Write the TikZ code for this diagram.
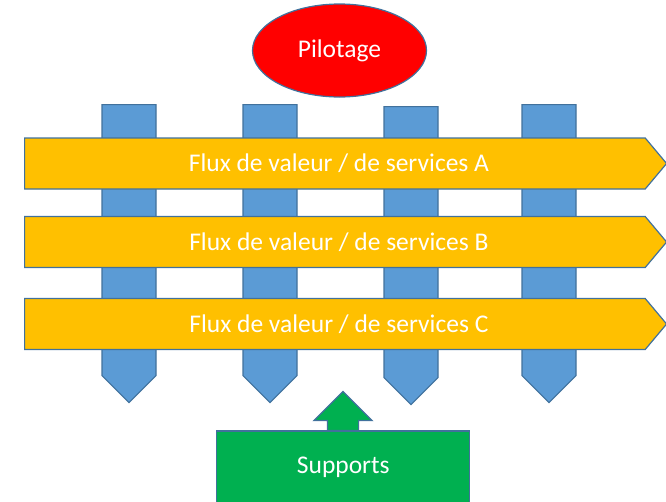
\documentclass[tikz,border=0pt]{standalone}
\usepackage{fontspec}
\setmainfont{Carlito}
\usepackage{tikz}
\usetikzlibrary{shapes.geometric,shapes.arrows,positioning}
\definecolor{pilotcolor}{RGB}{255, 0, 0}
\definecolor{linecolor}{RGB}{65, 113, 156}
\definecolor{barcolor}{RGB}{91, 155, 213}
\definecolor{fluxcolor}{RGB}{255, 192, 0}
\definecolor{supportcolor}{RGB}{0, 176, 80}

\begin{document}
\begin{tikzpicture}[x=1pt, y=-1pt,
    every node/.append style={text=white, font=\fontsize{25.5}{30}\selectfont},
    pilot/.style={draw=linecolor, line width=1.2pt, ellipse, fill=pilotcolor, minimum width=174pt, minimum height=93pt, inner sep=0pt},
    bar/.style={draw=linecolor, line width=1.2pt, single arrow, fill=barcolor, single arrow head extend=0pt, single arrow tip angle=90, minimum width=54pt, minimum height=298pt, inner sep=0pt, rotate=-90, anchor=tail},
    flux/.style={draw=linecolor, line width=1.2pt, single arrow, fill=fluxcolor, single arrow head extend=0pt, single arrow tip angle=100, minimum width=51pt, minimum height=642pt, inner sep=0pt, anchor=tail, execute at begin node=\hspace*{8pt}},
    supportbox/.style={draw=linecolor, line width=1.2pt, fill=supportcolor, minimum width=253pt, minimum height=72pt, inner sep=0pt},
    supportarrow/.style={draw=linecolor, line width=1.2pt, single arrow, fill=supportcolor, single arrow head extend=13.5pt, single arrow tip angle=90, minimum width=57pt, minimum height=39pt, inner xsep=0pt, inner ysep=15pt, rotate=90, anchor=tail},
]
    \useasboundingbox (0, 0) rectangle (666, 501);

    % Pilotage
    \node[pilot] (pilotage) at (339.5, 50.5) {Pilotage};

    % Vertical bars
    \node[bar] (bar1) at (129, 104) {};
    \node[bar] (bar2) at (270, 104) {};
    \node[bar] (bar3) at (411, 106) {};
    \node[bar] (bar4) at (549, 104) {};

    % Value streams
    \node[flux] (fluxA) at (24, 163.5) {Flux de valeur / de services A};
    \node[flux] (fluxB) at (24, 242) {Flux de valeur / de services B};
    \node[flux] (fluxC) at (24, 324) {Flux de valeur / de services C};

    % Supports
    \node[supportarrow] (uparrow) at (343, 431) {};
    \node[supportbox] (supports) at (343.3, 467) {Supports};

\end{tikzpicture}
\end{document}
